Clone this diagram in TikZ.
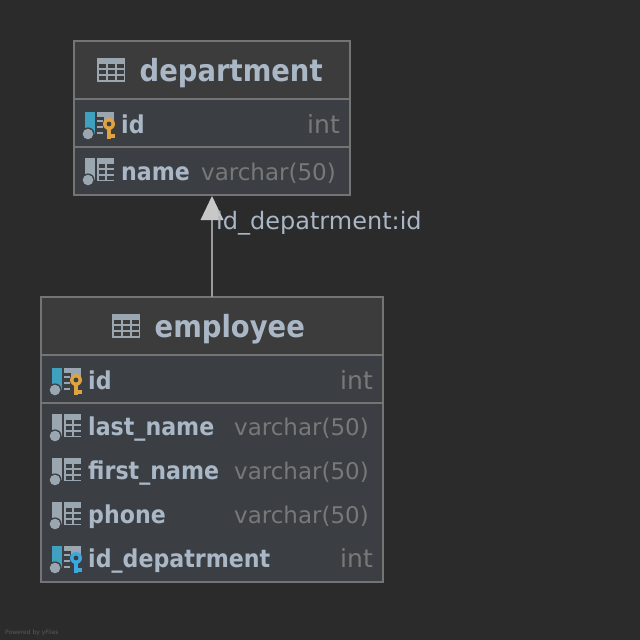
\documentclass[tikz,border=0pt]{standalone}
\usepackage{fontspec}
\setmainfont[BoldFont={DejaVu Sans Condensed Bold}]{DejaVu Sans}
\usetikzlibrary{arrows.meta}
\definecolor{canvas}{HTML}{2B2B2B}
\definecolor{headfill}{HTML}{3C3C3C}
\definecolor{rowfill}{HTML}{3B3F43}
\definecolor{frameline}{HTML}{747474}
\definecolor{nametext}{HTML}{A9B7C6}
\definecolor{typetext}{HTML}{787878}
\definecolor{iconblue}{HTML}{40A0BF}
\definecolor{icongray}{HTML}{9AA7B0}
\definecolor{keygold}{HTML}{DFA33F}
\definecolor{keyblue}{HTML}{3AA9E0}
\definecolor{linkline}{HTML}{9A9A9A}
\definecolor{linktip}{HTML}{C8C8C8}
\tikzset{
  % one unit is one pixel of the reference, y counted from the top
  tablebox/.style={fill=headfill, draw=frameline, line width=2pt},
  rowbox/.style={fill=rowfill, draw=frameline, line width=2pt},
  titletext/.style={text=nametext, font=\fontsize{30.5}{30}\selectfont\bfseries, inner sep=0pt, anchor=base west},
  nametxt/.style={text=nametext, font=\fontsize{24.6}{24}\selectfont\bfseries, inner sep=0pt, anchor=base west},
  typetxt/.style={text=typetext, font=\fontsize{23}{24}\selectfont, inner sep=0pt, anchor=base east},
  inttxt/.style={text=typetext, font=\fontsize{25}{25}\selectfont, inner sep=0pt, anchor=base east},
  pics/tableicon/.style={code={
    \fill[icongray] (0,0) rectangle (28,24);
    \foreach \u in {2,11,20} \foreach \v in {6,12,18}
      \fill[headfill] (\u,\v) rectangle ++(7,4);
  }},
  pics/columnicon/.style={code={
    \fill[#1] (0,0) rectangle (10,22);
    \fill[rowfill] (3,22) circle (6.6);
    \fill[icongray] (3,22) circle (5.3);
    \fill[icongray] (12,0) rectangle (29,23);
    \foreach \u in {13.5,22} \foreach \v in {6,12,18}
      \fill[rowfill] (\u,\v) rectangle ++(6.5,4);
  }},
  pics/keyicon/.style={code={
    \fill[#1] (0,0) circle (6);
    \fill[rowfill] (0,0) circle (2.4);
    \fill[#1] (-2,5) rectangle (2,15);
    \fill[#1] (2,10) rectangle (6,14);
  }},
  pics/pkicon/.style={code={
    \fill[iconblue] (0,0) rectangle (10,22);
    \fill[rowfill] (3,22) circle (6.6);
    \fill[icongray] (3,22) circle (5.3);
    \fill[icongray] (12,0) rectangle (29,5);
    \fill[icongray] (12,8) rectangle (18,10);
    \fill[icongray] (12,14) rectangle (18,16);
    \fill[icongray] (12,20) rectangle (18,22);
    \fill[icongray] (19,5) rectangle (29,9);
    \pic at (24,12) {keyicon=#1};
  }}
}
\begin{document}
\begin{tikzpicture}[x=1pt, y=-1pt]
\fill[canvas] (0,0) rectangle (640,640);
\useasboundingbox (0,0) rectangle (640,640);

% ---------- department ----------
\draw[rowbox] (74,41) rectangle (350,195);
\draw[tablebox] (74,41) rectangle (350,99);
\draw[rowbox] (74,99) rectangle (350,147);
\pic at (97,58) {tableicon};
\node[titletext] (depttitle) at (139.5,81) {department};

\pic at (85,112) {pkicon=keygold};
\node[nametxt] (deptid) at (121,133) {id};
\node[inttxt] (deptidtype) at (340,133) {int};

\pic at (85,158) {columnicon=icongray};
\node[nametxt] (deptname) at (121,180) {name};
\node[typetxt] (deptnametype) at (336,180) {varchar(50)};

% ---------- employee ----------
\draw[rowbox] (41,297) rectangle (383,582);
\draw[tablebox] (41,297) rectangle (383,355);
\draw[rowbox] (41,355) rectangle (383,403);
\pic at (112,314) {tableicon};
\node[titletext] (emptitle) at (154.5,337) {employee};

\pic at (52,368) {pkicon=keygold};
\node[nametxt] (empid) at (88,389) {id};
\node[inttxt] (empidtype) at (373,389) {int};

\foreach \y/\name/\kind in {414/last\_name/lastname, 458/first\_name/firstname, 502/phone/phone} {
  \pic at (52,\y) {columnicon=icongray};
  \node[nametxt] (\kind) at (88,\y+21) {\name};
  \node[typetxt] (\kind type) at (369,\y+21) {varchar(50)};
}

\pic at (52,546) {pkicon=keyblue};
\node[nametxt] (empfk) at (88,567) {id\_depatrment};
\node[inttxt] (empfktype) at (373,567) {int};

% ---------- relation ----------
\coordinate (fkfrom) at (212,297);
\coordinate (fkto) at (212,196);
\draw[-{Triangle[length=24pt, width=23pt, fill=linktip, color=linktip, line width=0pt]}, color=linkline, line width=2.4pt] (fkfrom) -- (fkto);
\node[text=nametext, font=\fontsize{24}{24}\selectfont, inner sep=0pt, anchor=base west] (fklabel) at (216,229) {id\_depatrment:id};

\node[text=typetext, font=\fontsize{6}{6}\selectfont, inner sep=0pt, anchor=base west, opacity=.6] (powered) at (5,634) {Powered by yFiles};
\end{tikzpicture}
\end{document}
